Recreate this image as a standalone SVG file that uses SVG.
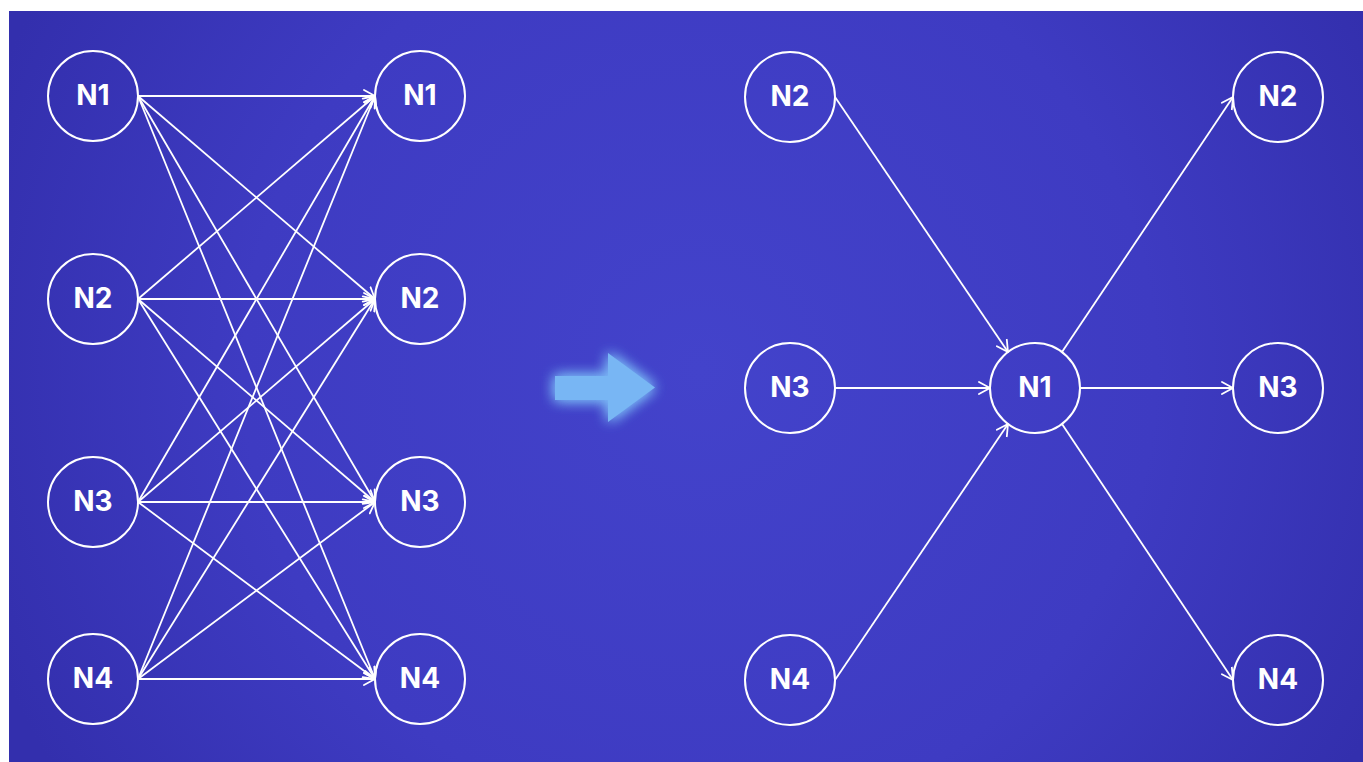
<svg xmlns="http://www.w3.org/2000/svg" width="1363" height="762" viewBox="0 0 1363 762">
<defs>
<radialGradient id="bg" cx="700" cy="370" r="760" gradientUnits="userSpaceOnUse">
<stop offset="0" stop-color="#4343cb"/>
<stop offset="0.6" stop-color="#3e3bc2"/>
<stop offset="1" stop-color="#332fad"/>
</radialGradient>
<marker id="ah" markerUnits="userSpaceOnUse" markerWidth="16" markerHeight="16" refX="12" refY="7" orient="auto" viewBox="0 0 16 14">
<path d="M1,1 L12,7 L1,13" fill="none" stroke="#ffffff" stroke-width="1.8" stroke-linecap="round" stroke-linejoin="round"/>
</marker>
<filter id="glow" x="-50%" y="-50%" width="200%" height="200%">
<feGaussianBlur in="SourceGraphic" stdDeviation="7" result="b"/>
<feMerge><feMergeNode in="b"/><feMergeNode in="b"/><feMergeNode in="SourceGraphic"/></feMerge>
</filter>
</defs>
<style>
.node circle{fill:none;stroke:#ffffff;stroke-width:2}
.node text{fill:#ffffff;font-family:Inter,"Liberation Sans",sans-serif;font-weight:700;font-size:28px;text-anchor:middle}
.edge{stroke:#ffffff;stroke-width:1.8;fill:none;marker-end:url(#ah)}
</style>
<rect x="0" y="0" width="1363" height="762" fill="#ffffff"/>
<rect x="9" y="11" width="1354" height="751" fill="url(#bg)"/>

<g id="connectors">
<line class="edge" x1="138" y1="96" x2="375" y2="96"/>
<line class="edge" x1="138" y1="96" x2="375" y2="299"/>
<line class="edge" x1="138" y1="96" x2="375" y2="502"/>
<line class="edge" x1="138" y1="96" x2="375" y2="679"/>
<line class="edge" x1="138" y1="299" x2="375" y2="96"/>
<line class="edge" x1="138" y1="299" x2="375" y2="299"/>
<line class="edge" x1="138" y1="299" x2="375" y2="502"/>
<line class="edge" x1="138" y1="299" x2="375" y2="679"/>
<line class="edge" x1="138" y1="502" x2="375" y2="96"/>
<line class="edge" x1="138" y1="502" x2="375" y2="299"/>
<line class="edge" x1="138" y1="502" x2="375" y2="502"/>
<line class="edge" x1="138" y1="502" x2="375" y2="679"/>
<line class="edge" x1="138" y1="679" x2="375" y2="96"/>
<line class="edge" x1="138" y1="679" x2="375" y2="299"/>
<line class="edge" x1="138" y1="679" x2="375" y2="502"/>
<line class="edge" x1="138" y1="679" x2="375" y2="679"/>
<line class="edge" x1="835" y1="97" x2="1008" y2="352"/>
<line class="edge" x1="835" y1="388" x2="990" y2="388"/>
<line class="edge" x1="835" y1="680" x2="1008" y2="424"/>
<line class="edge" x1="1062" y1="352" x2="1233" y2="97"/>
<line class="edge" x1="1080" y1="388" x2="1233" y2="388"/>
<line class="edge" x1="1062" y1="424" x2="1233" y2="680"/>
</g>

<g id="transform-arrow" filter="url(#glow)">
<polygon points="555,376 608,376 608,353 655,387.5 608,422 608,400 555,400" fill="#78b6f4"/>
</g>

<g id="L-N1" class="node"><circle cx="93" cy="96" r="45"/><text x="93" y="105">N1</text></g>
<g id="L-N2" class="node"><circle cx="93" cy="299" r="45"/><text x="93" y="308">N2</text></g>
<g id="L-N3" class="node"><circle cx="93" cy="502" r="45"/><text x="93" y="511">N3</text></g>
<g id="L-N4" class="node"><circle cx="93" cy="679" r="45"/><text x="93" y="688">N4</text></g>
<g id="LR-N1" class="node"><circle cx="420" cy="96" r="45"/><text x="420" y="105">N1</text></g>
<g id="LR-N2" class="node"><circle cx="420" cy="299" r="45"/><text x="420" y="308">N2</text></g>
<g id="LR-N3" class="node"><circle cx="420" cy="502" r="45"/><text x="420" y="511">N3</text></g>
<g id="LR-N4" class="node"><circle cx="420" cy="679" r="45"/><text x="420" y="688">N4</text></g>

<g id="R-N2" class="node"><circle cx="790" cy="97" r="45"/><text x="790" y="106">N2</text></g>
<g id="R-N3" class="node"><circle cx="790" cy="388" r="45"/><text x="790" y="397">N3</text></g>
<g id="R-N4" class="node"><circle cx="790" cy="680" r="45"/><text x="790" y="689">N4</text></g>
<g id="R-N1" class="node"><circle cx="1035" cy="388" r="45"/><text x="1035" y="397">N1</text></g>
<g id="RR-N2" class="node"><circle cx="1278" cy="97" r="45"/><text x="1278" y="106">N2</text></g>
<g id="RR-N3" class="node"><circle cx="1278" cy="388" r="45"/><text x="1278" y="397">N3</text></g>
<g id="RR-N4" class="node"><circle cx="1278" cy="680" r="45"/><text x="1278" y="689">N4</text></g>
</svg>
